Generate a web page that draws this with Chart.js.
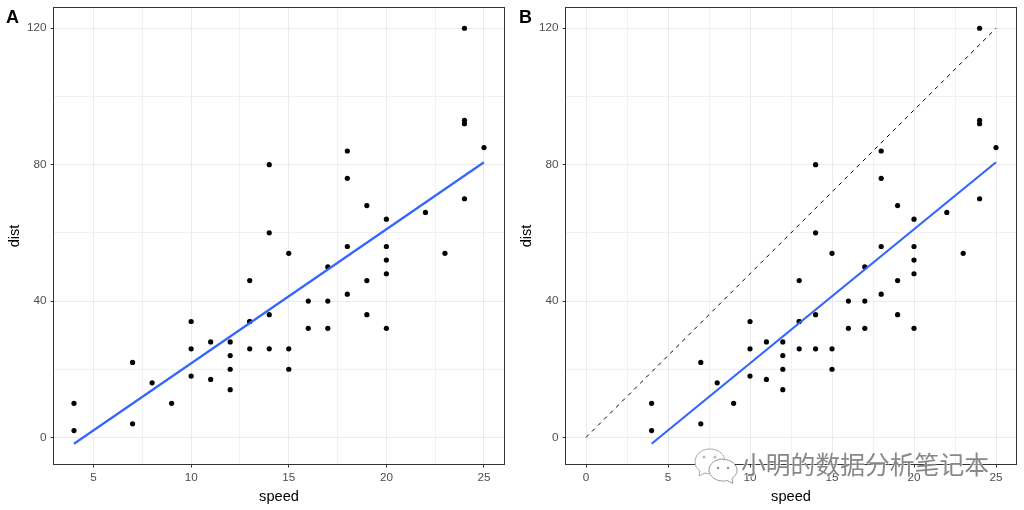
<!DOCTYPE html>
<html><head><meta charset="utf-8">
<style>
html,body{margin:0;padding:0;background:#fff;width:1024px;height:510px;overflow:hidden}
canvas{position:absolute;top:0}
#cA{left:0}#cB{left:512px}
.tag{position:absolute;font:bold 18px "Liberation Sans",Arial,sans-serif;color:#000;line-height:18px;top:8px}
#wm{position:absolute;left:741px;top:447px;font:24.8px/32px "Noto Sans CJK SC",sans-serif;color:#888;text-shadow:1px 1px 0 rgba(255,255,255,.55),-1px 0 0 rgba(255,255,255,.45);white-space:nowrap}
#ic{position:absolute;left:692px;top:446px}
</style>
<script src="https://cdn.jsdelivr.net/npm/chart.js@4"></script>
</head><body>
<canvas id="cA" width="512" height="510"></canvas>
<canvas id="cB" width="512" height="510"></canvas>
<div class="tag" style="left:6px">A</div>
<div class="tag" style="left:519px">B</div>
<svg id="ic" width="48" height="40" viewBox="0 0 48 40">
<path d="M18 3C9 3 3 9 3 16c0 4 2 7 5 9l-1 5 6-3c2 .6 3 .7 5 .7 8 0 15-5 15-12S27 3 18 3z" fill="#fff" stroke="#aaa" stroke-width="1"/>
<path d="M31 13c-8 0-14 5-14 11s6 11 14 11c2 0 3 0 4-.6l6 3-1-5c3-2 5-5 5-8 0-6-6-11-14-11z" fill="#fff" stroke="#999" stroke-width="1"/>
<circle cx="12" cy="11" r="1.5" fill="#bbb"/><circle cx="23" cy="11" r="1.5" fill="#bbb"/>
<circle cx="26" cy="22" r="1.3" fill="#999"/><circle cx="36" cy="22" r="1.3" fill="#999"/>
</svg>
<div id="wm">小明的数据分析笔记本</div>
<script>
const speed=[4,4,7,7,8,9,10,10,10,11,11,12,12,12,12,13,13,13,13,14,14,14,14,15,15,15,16,16,17,17,17,18,18,18,18,19,19,19,20,20,20,20,20,22,23,24,24,24,24,25];
const dist=[2,10,4,22,16,10,18,26,34,17,28,14,20,24,28,26,34,34,46,26,36,60,80,20,26,54,32,40,32,40,50,42,56,76,84,36,46,68,32,48,52,56,64,66,54,70,92,93,120,85];
const fitSpeed=[4,25];
const fitDist=[-1.85,80.7];
const refSpeed=[0,25];
const refDist=[0,120];
const xGridA=[5,7.5,10,12.5,15,17.5,20,22.5,25];
const xGridB=[0,2.5,5,7.5,10,12.5,15,17.5,20,22.5,25];
const yGrid=[0,20,40,60,80,100,120];
const FONT='"Liberation Sans",Arial,sans-serif';
const frame={id:'frame',afterDraw(c){const a=c.chartArea,x=c.ctx;x.save();x.strokeStyle='#333';x.lineWidth=1;x.strokeRect(a.left,a.top,a.right-a.left,a.bottom-a.top);x.restore();}};
function pts(xs,ys){return xs.map((v,i)=>({x:v,y:ys[i]}));}
function zeroPad(s){s.paddingTop=0;s.paddingBottom=0;s.paddingLeft=0;s.paddingRight=0;}
function make(id,xMin,xMax,xGrid,extra){
 const isMajX=v=>v%5===0, isMajY=v=>v%40===0;
 const ds=[];
 ds.push({type:'scatter',showLine:true,data:pts(fitSpeed,fitDist),borderColor:'#3366FF',borderWidth:2.2,pointRadius:0,fill:false});
 if(extra)ds.push({type:'scatter',showLine:true,data:pts(refSpeed,refDist),borderColor:'#000',borderWidth:1,borderDash:[4,4.5],pointRadius:0,fill:false});
 ds.push({type:'scatter',data:pts(speed,dist),backgroundColor:'#000',borderWidth:0,pointRadius:2.6});
 new Chart(document.getElementById(id),{type:'scatter',data:{datasets:ds},plugins:[frame],options:{
  responsive:false,animation:false,events:[],
  layout:{autoPadding:false,padding:{top:7.5,right:7.5,left:0,bottom:0}},
  plugins:{legend:{display:false},tooltip:{enabled:false},title:{display:false}},
  scales:{
   x:{type:'linear',min:xMin,max:xMax,afterFit(s){s.height=45.5;zeroPad(s);},
    afterBuildTicks(s){s.ticks=xGrid.map(v=>({value:v}));},
    border:{display:false},
    grid:{drawTicks:true,tickLength:3,tickWidth:1,tickColor:c=>isMajX(c.tick.value)?'#333':'rgba(0,0,0,0)',color:c=>isMajX(c.tick.value)?'#ebebeb':'#f1f1f1',lineWidth:1},
    ticks:{autoSkip:false,maxRotation:0,padding:3,color:'#4D4D4D',font:{family:FONT,size:11.7},callback:v=>isMajX(v)?String(v):''},
    title:{display:true,text:'speed',color:'#000',font:{family:FONT,size:14.6},padding:{top:0,bottom:4}}},
   y:{type:'linear',min:-7.94,max:126.09,afterFit(s){s.width=53.5;zeroPad(s);},
    afterBuildTicks(s){s.ticks=yGrid.map(v=>({value:v}));},
    border:{display:false},
    grid:{drawTicks:true,tickLength:3,tickWidth:1,tickColor:c=>isMajY(c.tick.value)?'#333':'rgba(0,0,0,0)',color:c=>isMajY(c.tick.value)?'#ebebeb':'#f1f1f1',lineWidth:1},
    ticks:{autoSkip:false,padding:4,color:'#4D4D4D',font:{family:FONT,size:11.7},callback:v=>isMajY(v)?String(v):''},
    title:{display:true,text:'dist',color:'#000',font:{family:FONT,size:14.6},padding:{top:6,bottom:0}}}
  }}});
}
make('cA',2.95,26.05,xGridA,false);
make('cB',-1.25,26.25,xGridB,true);
</script>
</body></html>
